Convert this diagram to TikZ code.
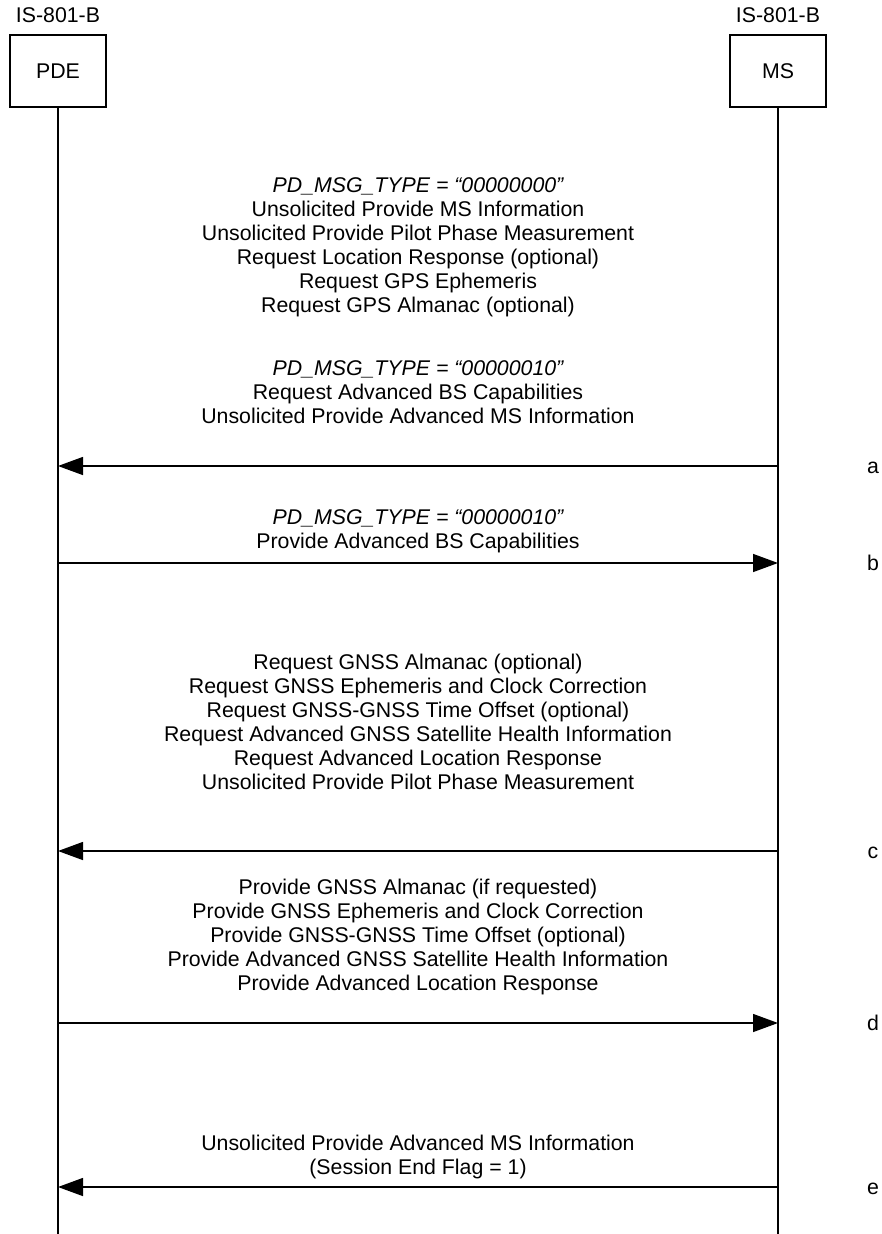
\documentclass[tikz,border=0pt]{standalone}
\usepackage{fontspec}
\setmainfont{Liberation Sans}
\usetikzlibrary{arrows.meta, positioning}
\newcommand{\msgfont}{\fontsize{21.3}{24}\selectfont}
\tikzset{
  entitybox/.style={rectangle, draw=black, line width=1.4pt, minimum width=96pt, minimum height=72pt, inner sep=0pt, font=\msgfont},
  lifeline/.style={line width=1.4pt},
  msgarrow/.style={-{Triangle[length=25pt,width=18pt]}, line width=1.4pt},
  msgtext/.style={align=center, inner sep=0pt, anchor=base, font=\msgfont},
  steplabel/.style={inner sep=0pt, anchor=base, font=\msgfont}
}

\begin{document}
\begin{tikzpicture}[x=1pt,y=-1pt]
  \useasboundingbox (0,0) rectangle (882,1234);

  % entities
  \node[entitybox] (pde) at (58,71) {PDE};
  \node[entitybox] (ms) at (778,71) {MS};
  \node[steplabel] (pdestd) at (58,22) {IS-801-B};
  \node[steplabel] (msstd) at (778,22) {IS-801-B};

  \coordinate (pdeend) at (58,1234);
  \coordinate (msend) at (778,1234);
  \draw[lifeline] (pde.south) -- (pdeend);
  \draw[lifeline] (ms.south) -- (msend);

  % message levels
  \coordinate (ya) at (0,466);
  \coordinate (yb) at (0,563);
  \coordinate (yc) at (0,851);
  \coordinate (yd) at (0,1023);
  \coordinate (ye) at (0,1187);

  % a
  \node[msgtext] (txta1) at (418,312) {{\itshape PD\_MSG\_TYPE = “00000000”}\\Unsolicited Provide MS Information\\Unsolicited Provide Pilot Phase Measurement\\Request Location Response (optional)\\Request GPS Ephemeris\\Request GPS Almanac (optional)};
  \node[msgtext] (txta2) at (418,423) {{\itshape PD\_MSG\_TYPE = “00000010”}\\Request Advanced BS Capabilities\\Unsolicited Provide Advanced MS Information};
  \draw[msgarrow] (ms |- ya) -- (pde |- ya);
  \node[steplabel] (lbla) at (873,473.5) {a};

  % b
  \node[msgtext] (txtb) at (418,548) {{\itshape PD\_MSG\_TYPE = “00000010”}\\Provide Advanced BS Capabilities};
  \draw[msgarrow] (pde |- yb) -- (ms |- yb);
  \node[steplabel] (lblb) at (873,570.5) {b};

  % c
  \node[msgtext] (txtc) at (418,789) {Request GNSS Almanac (optional)\\Request GNSS Ephemeris and Clock Correction\\Request GNSS-GNSS Time Offset (optional)\\Request Advanced GNSS Satellite Health Information\\Request Advanced Location Response\\Unsolicited Provide Pilot Phase Measurement};
  \draw[msgarrow] (ms |- yc) -- (pde |- yc);
  \node[steplabel] (lblc) at (873,858.5) {c};

  % d
  \node[msgtext] (txtd) at (418,990) {Provide GNSS Almanac (if requested)\\Provide GNSS Ephemeris and Clock Correction\\Provide GNSS-GNSS Time Offset (optional)\\Provide Advanced GNSS Satellite Health Information\\Provide Advanced Location Response};
  \draw[msgarrow] (pde |- yd) -- (ms |- yd);
  \node[steplabel] (lbld) at (873,1030.5) {d};

  % e
  \node[msgtext] (txte) at (418,1174) {Unsolicited Provide Advanced MS Information\\(Session End Flag = 1)};
  \draw[msgarrow] (ms |- ye) -- (pde |- ye);
  \node[steplabel] (lble) at (873,1194.5) {e};
\end{tikzpicture}
\end{document}
